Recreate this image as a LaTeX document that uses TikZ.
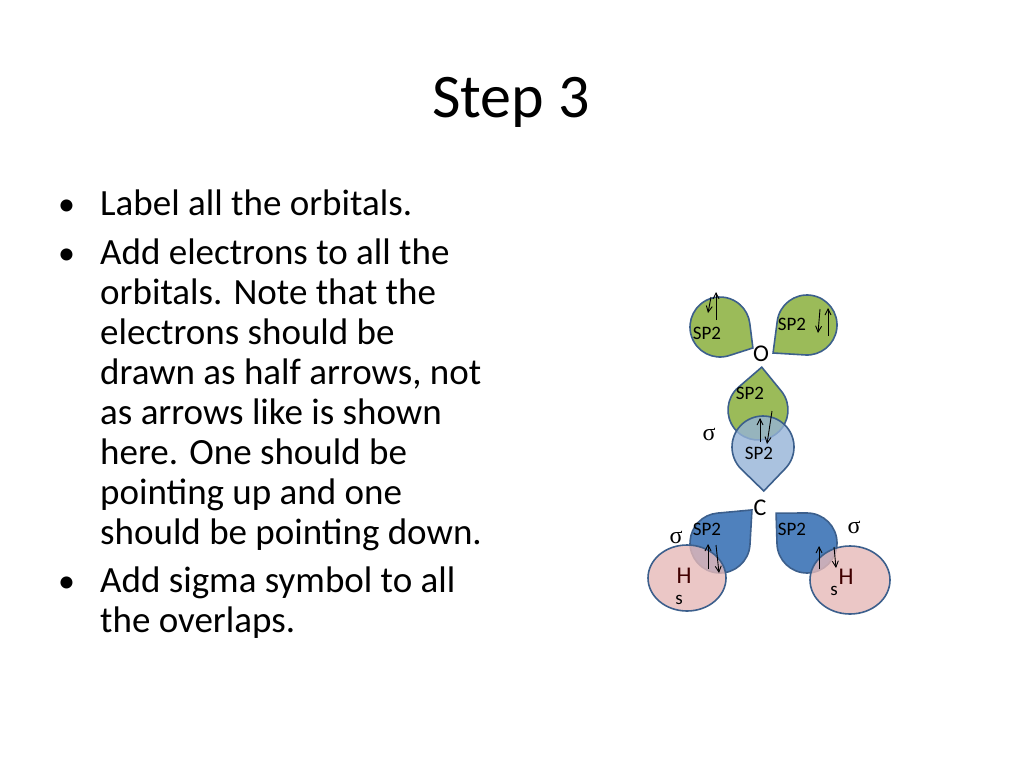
\documentclass[tikz,border=0pt]{standalone}
\usepackage{fontspec}
\setmainfont{Carlito}
\newfontfamily\sigfont{Liberation Serif}
\usetikzlibrary{calc,arrows.meta}
\definecolor{grn}{RGB}{155,187,89}
\definecolor{edge}{RGB}{60,95,140}
\definecolor{lblue}{RGB}{149,179,215}
\definecolor{dblue}{RGB}{79,129,189}
\definecolor{pink}{RGB}{230,185,184}
\newcommand\drop[6]{%
 \pgfmathsetmacro\al{acos(#4/#6)}%
 \filldraw[orb,#1] ($(#2,#3)+(#5:#6)$) -- ($(#2,#3)+(#5+\al:#4)$) arc[start angle=#5+\al, end angle=#5-\al+360, radius=#4] -- cycle;}
\begin{document}
\begin{tikzpicture}[x=1pt,y=-1pt,
 orb/.style={draw=edge,line width=1.6pt},
 lbl/.style={font=\fontsize{19}{20}\selectfont,inner sep=0pt},
 big/.style={font=\fontsize{24}{26}\selectfont,inner sep=0pt},
 sig/.style={font=\sigfont\fontsize{24}{26}\selectfont,inner sep=0pt},
 bul/.style={anchor=base west,font=\fontsize{37}{40}\selectfont,inner sep=0pt},
 el/.style={-{Straight Barb[length=6pt,width=6pt]},line width=0.9pt}]
\useasboundingbox (0,0) rectangle (1024,768);
\node[font=\fontsize{62}{70}\selectfont] (title) at (511,102) {Step 3};
\foreach \y [count=\i] in {203,252,580}
  \node[bul,font=\fontsize{34}{40}\selectfont] (d\i) at (58,\y+12) {•};
\foreach \y/\t [count=\i] in {203/Label all the orbitals.,252/Add electrons to all the,292/orbitals. Note that the,332/electrons should be,372/{drawn as half arrows, not},412/as arrows like is shown,452/here. One should be,492/pointing up and one,532/should be pointing down.,580/Add sigma symbol to all,620/the overlaps.}
  \node[bul] (b\i) at (100,\y+12) {\t};
% orbitals
\drop{fill=grn}{720}{327}{30}{32.5}{39}
\drop{fill=grn}{807}{325}{30}{140.5}{44}
\drop{fill=grn}{758}{410}{30}{-85}{43}
\drop{fill=lblue,fill opacity=0.8}{763}{447}{31}{89}{44}
\drop{fill=dblue}{720}{543}{30}{-46}{46}
\drop{fill=dblue}{807}{543}{30}{-136}{43}
\filldraw[orb,fill=pink,fill opacity=0.8] (687,578) ellipse[x radius=39,y radius=33];
\filldraw[orb,fill=pink,fill opacity=0.8] (850,580) ellipse[x radius=40,y radius=34];
% labels
\node[lbl] (s1) at (707,333) {SP2};
\node[lbl] (s2) at (792,324) {SP2};
\node[lbl] (s3) at (750,393) {SP2};
\node[lbl] (s4) at (759,453) {SP2};
\node[lbl] (s5) at (707,529) {SP2};
\node[lbl] (s6) at (792,529) {SP2};
\node[big] (O) at (761,354) {O};
\node[big] (C) at (760,508) {C};
\node[big,text=black!75!red] (H1) at (684,576) {H};
\node[big,text=black!75!red] (H2) at (846,577) {H};
\node[lbl] (sa) at (679,600) {s};
\node[lbl] (sb) at (834,591) {s};
\node[sig] (g1) at (709,434) {σ};
\node[sig] (g2) at (676,537) {σ};
\node[sig] (g3) at (854,527) {σ};
% electrons
\draw[el] (716,320) -- (716,292);
\draw[el] (711,297) -- (708,313);
\draw[el] (820,309) -- (818,333);
\draw[el] (828,336) -- (828,308);
\draw[el] (760,442) -- (760,418);
\draw[el] (772,411) -- (767,444);
\draw[el] (708,569) -- (708,544);
\draw[el] (716,545) -- (719,573);
\draw[el] (819,569) -- (819,546);
\draw[el] (834,547) -- (836,568);
\end{tikzpicture}
\end{document}
